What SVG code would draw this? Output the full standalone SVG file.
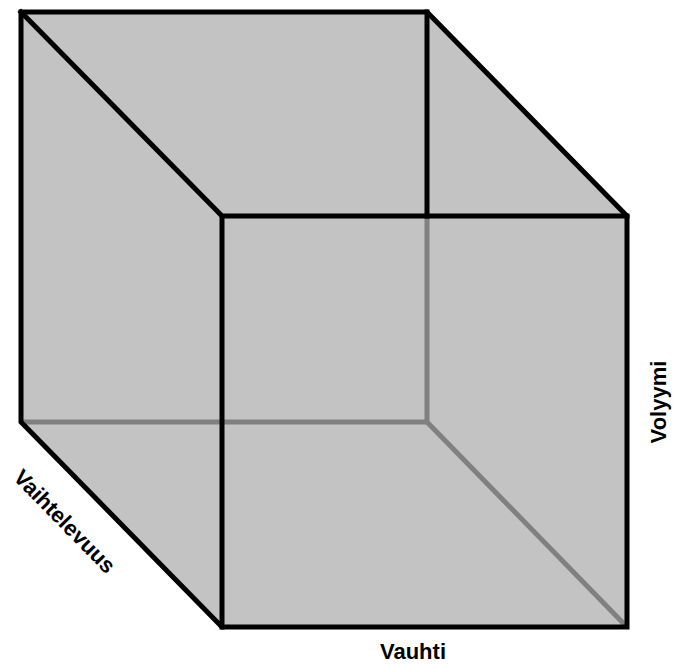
<svg xmlns="http://www.w3.org/2000/svg" width="676" height="664" viewBox="0 0 676 664">
<style>
.blk{stroke:#000;stroke-width:5;fill:none;stroke-linecap:square;stroke-linejoin:miter}
.gry{stroke:#808080;stroke-width:5;fill:none;stroke-linecap:butt}
.lbl{font-family:"Liberation Sans",Arial,sans-serif;font-weight:bold;font-size:22px;fill:#000;text-anchor:middle}
</style>
<rect width="676" height="664" fill="#fff"/>
<g id="cube">
<polygon points="21,12 427,12 627,216 627,627 222,627 21,422" fill="#c3c3c3"/>
</g>
<g id="edges">
<line class="gry" x1="427" y1="216" x2="427" y2="422"/>
<line class="gry" x1="21" y1="422" x2="427" y2="422"/>
<line class="gry" x1="427" y1="422" x2="627" y2="627"/>
<line class="blk" x1="427" y1="12" x2="427" y2="216"/>
<line class="blk" x1="21" y1="12" x2="222" y2="216"/>
<polyline class="blk" points="222,627 222,216 627,216"/>
<polygon class="blk" points="21,12 427,12 627,216 627,627 222,627 21,422"/>
</g>
<g id="label-vaihtelevuus">
<text class="lbl" transform="translate(65,521) rotate(45.6)" dy="8">Vaihtelevuus</text>
</g>
<g id="label-volyymi">
<text class="lbl" transform="translate(666,402) rotate(-90)">Volyymi</text>
</g>
<g id="label-vauhti">
<text class="lbl" x="413" y="659">Vauhti</text>
</g>
</svg>
